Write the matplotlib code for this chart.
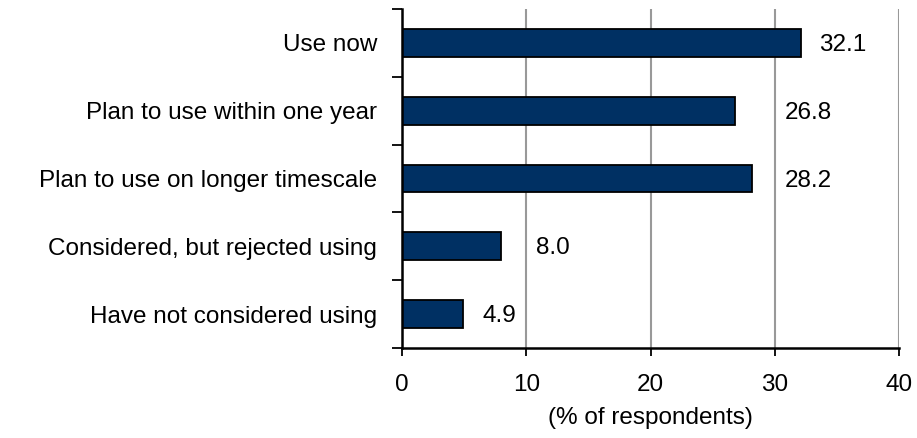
import matplotlib.pyplot as plt
import numpy as np

plt.rcParams['font.family'] = ['Liberation Sans', 'DejaVu Sans']

categories = ["Use now", "Plan to use within one year", "Plan to use on longer timescale",
              "Considered, but rejected using", "Have not considered using"]
values = [32.1, 26.8, 28.2, 8.0, 4.9]
label_x = [33.6, 30.8, 30.8, 10.8, 6.5]   # where each value label starts

fs = 17.5

fig = plt.figure(figsize=(9.17, 4.38), dpi=100)
ax = fig.add_axes([0.4384, 0.2055, 0.5420, 0.774])

y = np.arange(len(categories))
ax.barh(y, values, height=0.41, color='#003063', edgecolor='black', linewidth=1.3, zorder=3)

for yi, v, lx in zip(y, values, label_x):
    ax.text(lx, yi + 0.03, f"{v:.1f}", va='center', ha='left', fontsize=fs, zorder=4)

ax.set_xlim(0, 40)
ax.set_ylim(len(categories) - 0.5, -0.5)
ax.set_xticks([0, 10, 20, 30, 40])
ax.xaxis.grid(True, color='#999999', linewidth=1.5, zorder=0)

# category names sit between the tick marks
ax.set_yticks(np.arange(len(categories) + 1) - 0.5)
ax.set_yticklabels([])
ax.set_yticks(y, minor=True)
ax.set_yticklabels(categories, minor=True)
ax.tick_params(axis='y', which='minor', length=0, pad=18, labelsize=fs)
ax.tick_params(axis='y', which='major', length=7, width=1.3, direction='out')
ax.tick_params(axis='x', length=6, width=1.3, direction='out', labelsize=fs, pad=13)

for s in ['top', 'right']:
    ax.spines[s].set_visible(False)
for s in ['left', 'bottom']:
    ax.spines[s].set_linewidth(1.8)
    ax.spines[s].set_zorder(5)

ax.set_xlabel("(% of respondents)", fontsize=fs, labelpad=8)

fig.savefig("out.png", dpi=100)
